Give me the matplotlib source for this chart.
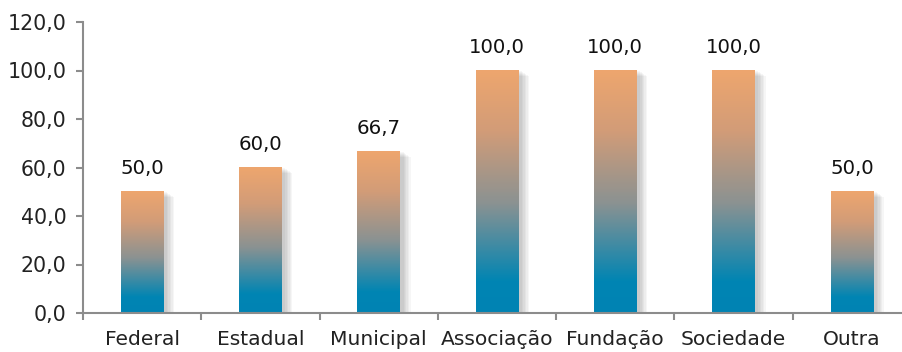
import numpy as np
import matplotlib.pyplot as plt
from matplotlib.colors import LinearSegmentedColormap
from matplotlib.patches import Rectangle

categories = ['Federal', 'Estadual', 'Municipal', 'Associação', 'Fundação', 'Sociedade', 'Outra']
values = [50.0, 60.0, 66.7, 100.0, 100.0, 100.0, 50.0]
yticks = [0, 20, 40, 60, 80, 100, 120]

plt.rcParams['font.family'] = ['DejaVu Sans']

grad = LinearSegmentedColormap.from_list('bar', [
    (0.0, '#0083b4'), (0.13, '#0085b3'), (0.45, '#8a9292'),
    (0.75, '#d29c78'), (1.0, '#eea66e')])

fig = plt.figure(figsize=(9.02, 3.52), dpi=100)
ax = fig.add_axes([83 / 902, 1 - 313 / 352, 1 - 83 / 902 + 0.01, (313 - 22) / 352])

width = 0.36
x = np.arange(len(categories))
bars = ax.bar(x, values, width=width, color='none')
col = np.linspace(0, 1, 256).reshape(-1, 1)
for b, v in zip(bars, values):
    x0 = b.get_x()
    # soft shadow on the right
    for k in range(6):
        ax.add_patch(Rectangle((x0 + 0.03 + k * 0.012, -0.5), width, v + 0.3 - k * 0.4,
                               color='#000000', alpha=0.035, lw=0, zorder=1))
    ax.imshow(col, cmap=grad, origin='lower', aspect='auto', zorder=2,
              extent=(x0, x0 + width, 0, v))
    ax.text(b.get_x() + width / 2, v + 5.6, f'{v:.1f}'.replace('.', ','),
            ha='center', va='bottom', fontsize=14.2, color='#111111')

ax.set_xlim(-0.5, len(categories) - 0.5)
ax.set_ylim(0, 120)
ax.set_yticks(yticks)
ax.set_yticklabels([f'{t:.1f}'.replace('.', ',') for t in yticks])
ax.set_xticks(x)
ax.set_xticklabels(categories)
ax.set_xticks(np.arange(len(categories) + 1) - 0.5, minor=True)
ax.tick_params(axis='x', which='major', length=0, pad=12, labelsize=14.6, colors='#222222')
ax.tick_params(axis='x', which='minor', length=5, width=1.5, color='#8c8c8c')
ax.tick_params(axis='y', length=5, width=1.5, color='#8c8c8c', labelsize=14.8,
               labelcolor='#222222', pad=7)
for s in ['top', 'right']:
    ax.spines[s].set_visible(False)
for s in ['left', 'bottom']:
    ax.spines[s].set_color('#8c8c8c')
    ax.spines[s].set_linewidth(1.5)

fig.savefig('out.png', dpi=100)
